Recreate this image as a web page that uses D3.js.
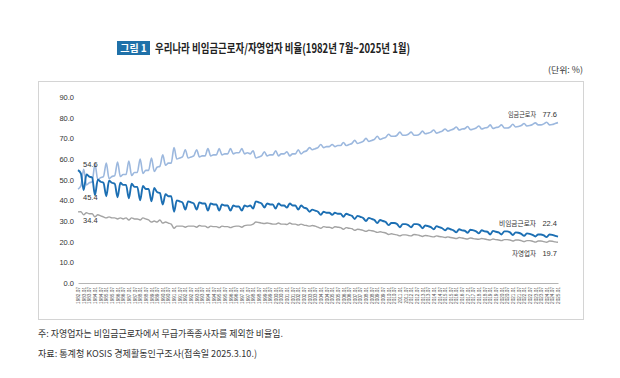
<!DOCTYPE html>
<html>
<head>
<meta charset="utf-8">
<script src="https://cdn.jsdelivr.net/npm/d3@7"></script>
<style>
  body { margin: 0; background: #fff; }
  text { font-family: "Noto Sans CJK KR", "Liberation Sans", sans-serif; }
  .num { font-family: "Liberation Sans", "Noto Sans CJK KR", sans-serif; }
  .line { fill: none; stroke-linejoin: round; }
</style>
</head>
<body>
<script>
// quarterly readings (Jan, Apr, Jul, Oct), 1982.07 ~ 2025.01
var firstMonth = new Date(1982, 6, 1);
var lastMonth = new Date(2025, 0, 1);

var wage = [
  45.4, 47.0,
  55.0, 47.5, 48.5, 49.0,   // 1983
  57.5, 50.0, 51.0, 51.5,
  58.0, 50.5, 51.5, 52.0,   // 1985
  58.5, 51.5, 52.5, 52.5,
  59.0, 52.0, 53.5, 53.5,
  60.0, 53.0, 54.5, 54.5,
  60.5, 54.0, 56.0, 56.5,
  62.0, 57.0, 58.0, 58.0,   // 1990
  65.5, 60.0, 60.5, 61.0,
  64.5, 60.5, 61.0, 61.5,
  64.5, 61.0, 61.5, 61.5,
  65.0, 61.5, 62.0, 62.0,
  65.0, 62.0, 62.5, 62.5,   // 1995
  65.0, 62.5, 63.0, 63.0,
  65.0, 62.5, 63.0, 62.5,
  64.0, 60.5, 61.0, 61.5,
  63.5, 61.5, 62.0, 62.0,
  64.0, 61.5, 62.5, 62.5,   // 2000
  63.5, 61.5, 62.5, 62.5,
  64.5, 62.5, 63.5, 64.0,
  65.5, 64.5, 65.0, 65.5,
  67.0, 65.5, 66.0, 66.0,
  67.0, 66.0, 66.5, 66.5,   // 2005
  68.0, 66.5, 67.0, 67.5,
  69.0, 67.5, 68.0, 68.5,
  70.0, 68.5, 69.0, 69.5,
  71.0, 69.5, 70.0, 70.5,
  72.0, 71.0, 71.0, 71.5,   // 2010
  73.0, 71.5, 71.5, 72.0,
  73.0, 71.5, 71.5, 72.0,
  73.5, 72.2, 72.5, 73.0,
  74.0, 72.5, 73.0, 73.5,
  74.5, 73.5, 74.0, 74.5,   // 2015
  75.5, 74.0, 74.5, 74.7,
  75.7, 74.2, 74.5, 75.0,
  76.0, 74.5, 75.0, 75.2,
  76.5, 74.8, 75.2, 75.5,
  76.5, 75.0, 75.0, 75.5,   // 2020
  76.8, 75.5, 75.7, 76.2,
  77.2, 76.0, 76.2, 76.7,
  77.5, 76.5, 76.5, 77.0,
  77.8, 76.5, 76.7, 77.2,
  77.6                      // 2025.01
];

var nonWage = [
  54.6, 53.0,
  45.0, 52.5, 51.5, 51.0,   // 1983
  42.5, 50.0, 49.0, 48.5,
  42.0, 49.5, 48.5, 48.0,   // 1985
  41.5, 48.5, 47.5, 47.5,
  41.0, 48.0, 46.5, 46.5,
  40.0, 47.0, 45.5, 45.5,
  39.5, 46.0, 44.0, 43.5,
  38.0, 43.0, 42.0, 42.0,   // 1990
  34.5, 40.0, 39.5, 39.0,
  35.5, 39.5, 39.0, 38.5,
  35.5, 39.0, 38.5, 38.5,
  35.0, 38.5, 38.0, 38.0,
  35.0, 38.0, 37.5, 37.5,   // 1995
  35.0, 37.5, 37.0, 37.0,
  35.0, 37.5, 37.0, 37.5,
  36.0, 39.5, 39.0, 38.5,
  36.5, 38.5, 38.0, 38.0,
  36.0, 38.5, 37.5, 37.5,   // 2000
  36.5, 38.5, 37.5, 37.5,
  35.5, 37.5, 36.5, 36.0,
  34.5, 35.5, 35.0, 34.5,
  33.0, 34.5, 34.0, 34.0,
  33.0, 34.0, 33.5, 33.5,   // 2005
  32.0, 33.5, 33.0, 32.5,
  31.0, 32.5, 32.0, 31.5,
  30.0, 31.5, 31.0, 30.5,
  29.0, 30.5, 30.0, 29.5,
  28.0, 29.0, 29.0, 28.5,   // 2010
  27.0, 28.5, 28.5, 28.0,
  27.0, 28.5, 28.5, 28.0,
  26.5, 27.8, 27.5, 27.0,
  26.0, 27.5, 27.0, 26.5,
  25.5, 26.5, 26.0, 25.5,   // 2015
  24.5, 26.0, 25.5, 25.3,
  24.3, 25.8, 25.5, 25.0,
  24.0, 25.5, 25.0, 24.8,
  23.5, 25.2, 24.8, 24.5,
  23.5, 25.0, 25.0, 24.5,   // 2020
  23.2, 24.5, 24.3, 23.8,
  22.8, 24.0, 23.8, 23.3,
  22.5, 23.5, 23.5, 23.0,
  22.2, 23.5, 23.3, 22.8,
  22.4                      // 2025.01
];

var selfEmp = [
  34.4, 34.5,
  33.0, 34.0, 33.5, 33.5,   // 1983
  32.0, 33.0, 32.5, 32.0,
  31.5, 32.0, 31.5, 31.5,   // 1985
  31.0, 31.5, 31.0, 31.5,
  30.5, 31.5, 31.0, 31.0,
  30.5, 31.5, 31.0, 30.5,
  29.5, 30.0, 29.5, 30.5,
  29.0, 29.5, 29.0, 28.5,   // 1990
  26.5, 27.5, 27.5, 27.5,
  27.0, 27.5, 27.5, 27.5,
  27.0, 27.8, 27.5, 27.5,
  26.8, 27.5, 27.3, 27.3,
  26.8, 27.5, 27.3, 27.3,   // 1995
  26.8, 27.3, 27.5, 27.5,
  27.0, 27.8, 28.0, 28.0,
  28.5, 29.5, 29.3, 29.0,
  28.8, 29.0, 28.8, 28.5,
  28.5, 29.0, 28.5, 28.5,   // 2000
  28.3, 29.0, 28.5, 28.5,
  28.0, 28.5, 28.0, 27.8,
  27.5, 27.8, 27.5, 27.0,
  26.5, 27.3, 27.0, 27.0,
  26.5, 27.2, 27.0, 26.8,   // 2005
  26.0, 26.8, 26.5, 26.3,
  25.5, 26.0, 25.8, 25.5,
  25.0, 25.5, 25.3, 25.0,
  24.5, 24.8, 24.5, 24.2,
  23.5, 23.8, 23.5, 23.3,   // 2010
  22.8, 23.3, 23.3, 23.0,
  22.8, 23.5, 23.3, 23.0,
  22.5, 23.0, 22.8, 22.5,
  22.3, 22.8, 22.5, 22.3,
  22.0, 22.3, 22.0, 21.8,   // 2015
  21.5, 22.0, 21.8, 21.5,
  21.3, 21.8, 21.5, 21.3,
  21.2, 21.5, 21.3, 21.0,
  20.8, 21.3, 21.0, 20.8,
  20.5, 21.0, 21.0, 20.8,   // 2020
  20.3, 20.8, 20.8, 20.5,
  20.0, 20.5, 20.5, 20.2,
  19.8, 20.3, 20.3, 20.0,
  19.7, 20.3, 20.2, 19.9,
  19.7                      // 2025.01
];

var yTicks = [0, 10, 20, 30, 40, 50, 60, 70, 80, 90];

// half-year tick labels 1982.07 ... 2025.01
var xTicks = [];
for (var yr = 1982; yr <= 2025; yr++) {
  [0, 6].forEach(function(m) {
    var d = new Date(yr, m, 1);
    if (d >= firstMonth && d <= lastMonth) xTicks.push(d);
  });
}

var series = [
  { name: "임금근로자", values: wage, color: "#9cb8de", width: 1.6 },
  { name: "비임금근로자", values: nonWage, color: "#1c6fb3", width: 1.9 },
  { name: "자영업자", values: selfEmp, color: "#a3a3a3", width: 1.4 }
];

var width = 620, height = 378;

var x = d3.scaleTime().domain([firstMonth, lastMonth]).range([78, 558]);
var y = d3.scaleLinear().domain([0, 90]).range([283, 97]);

function dateAt(i) { return new Date(1982, 6 + 3 * i, 1); }

var svg = d3.select("body").append("svg")
    .attr("width", width)
    .attr("height", height);

svg.append("rect").attr("width", width).attr("height", height).attr("fill", "#fff");

// title
svg.append("rect")
    .attr("x", 117).attr("y", 41)
    .attr("width", 33).attr("height", 14)
    .attr("fill", "#1f71a9");
svg.append("text")
    .attr("x", 133.5).attr("y", 52)
    .attr("text-anchor", "middle")
    .attr("font-size", "10px")
    .attr("font-weight", "bold")
    .attr("fill", "#fff")
    .text("그림 1");
svg.append("text")
    .attr("x", 155).attr("y", 52.5)
    .attr("font-size", "12.5px")
    .attr("font-weight", "bold")
    .attr("fill", "#222")
    .attr("textLength", 255)
    .attr("lengthAdjust", "spacingAndGlyphs")
    .text("우리나라 비임금근로자/자영업자 비율(1982년 7월~2025년 1월)");

svg.append("text")
    .attr("x", 583).attr("y", 73)
    .attr("text-anchor", "end")
    .attr("font-size", "8.5px")
    .attr("fill", "#333")
    .attr("textLength", 35)
    .attr("lengthAdjust", "spacingAndGlyphs")
    .text("(단위: %)");

// frame
svg.append("rect")
    .attr("x", 38.5).attr("y", 81.5)
    .attr("width", 545).attr("height", 238)
    .attr("fill", "none")
    .attr("stroke", "#d4d4d4");

// axis-y
var gy = svg.append("g")
    .attr("transform", "translate(77,0)")
    .call(d3.axisLeft(y).tickValues(yTicks).tickSize(0).tickFormat(d3.format(".1f")));
gy.select(".domain").remove();
gy.selectAll("text")
    .attr("class", "num")
    .attr("font-size", "7.5px")
    .attr("fill", "#333");

// axis-x
var gx = svg.append("g")
    .attr("transform", "translate(0,283)")
    .call(d3.axisBottom(x).tickValues(xTicks).tickSize(0).tickFormat(d3.timeFormat("%Y.%m")));
gx.select(".domain").attr("stroke", "#b5b5b5").attr("stroke-width", 1);
gx.selectAll("text")
    .attr("class", "num")
    .attr("font-size", "4.7px")
    .attr("fill", "#555")
    .attr("transform", "rotate(-90)")
    .attr("text-anchor", "end")
    .attr("x", -4)
    .attr("y", 0)
    .attr("dy", "0.35em");

// lines
var line = d3.line()
    .x(function(d, i) { return x(dateAt(i)); })
    .y(function(d) { return y(d); })
    .curve(d3.curveMonotoneX);

svg.selectAll(".line")
  .data(series)
  .enter().append("path")
    .attr("class", "line")
    .attr("stroke", function(d) { return d.color; })
    .attr("stroke-width", function(d) { return d.width; })
    .attr("d", function(d) { return line(d.values); });

// start values: wage below, non-wage above, self-employed below
var startDy = [10.5, -3, 11];
series.forEach(function(s, k) {
  svg.append("text")
      .attr("class", "num")
      .attr("x", 83)
      .attr("y", y(s.values[0]) + startDy[k])
      .attr("font-size", "7.5px")
      .attr("fill", "#333")
      .text(d3.format(".1f")(s.values[0]));
});

// end labels
var endY = [117, 226, 256];
var nameLen = [28, 37, 24];
series.forEach(function(s, k) {
  var last = s.values[s.values.length - 1];
  svg.append("text")
      .attr("x", 536).attr("y", endY[k])
      .attr("text-anchor", "end")
      .attr("font-size", "7px")
      .attr("fill", "#333")
      .attr("textLength", nameLen[k])
      .attr("lengthAdjust", "spacingAndGlyphs")
      .text(s.name);
  svg.append("text")
      .attr("class", "num")
      .attr("x", 557).attr("y", endY[k])
      .attr("text-anchor", "end")
      .attr("font-size", "7.5px")
      .attr("fill", "#333")
      .text(d3.format(".1f")(last));
});

// notes
svg.append("text")
    .attr("x", 38).attr("y", 337)
    .attr("font-size", "9.5px")
    .attr("fill", "#333")
    .attr("textLength", 245)
    .attr("lengthAdjust", "spacingAndGlyphs")
    .text("주: 자영업자는 비임금근로자에서 무급가족종사자를 제외한 비율임.");
svg.append("text")
    .attr("x", 38).attr("y", 357)
    .attr("font-size", "9.5px")
    .attr("fill", "#333")
    .attr("textLength", 219)
    .attr("lengthAdjust", "spacingAndGlyphs")
    .text("자료: 통계청 KOSIS 경제활동인구조사(접속일 2025.3.10.)");
</script>
</body>
</html>
